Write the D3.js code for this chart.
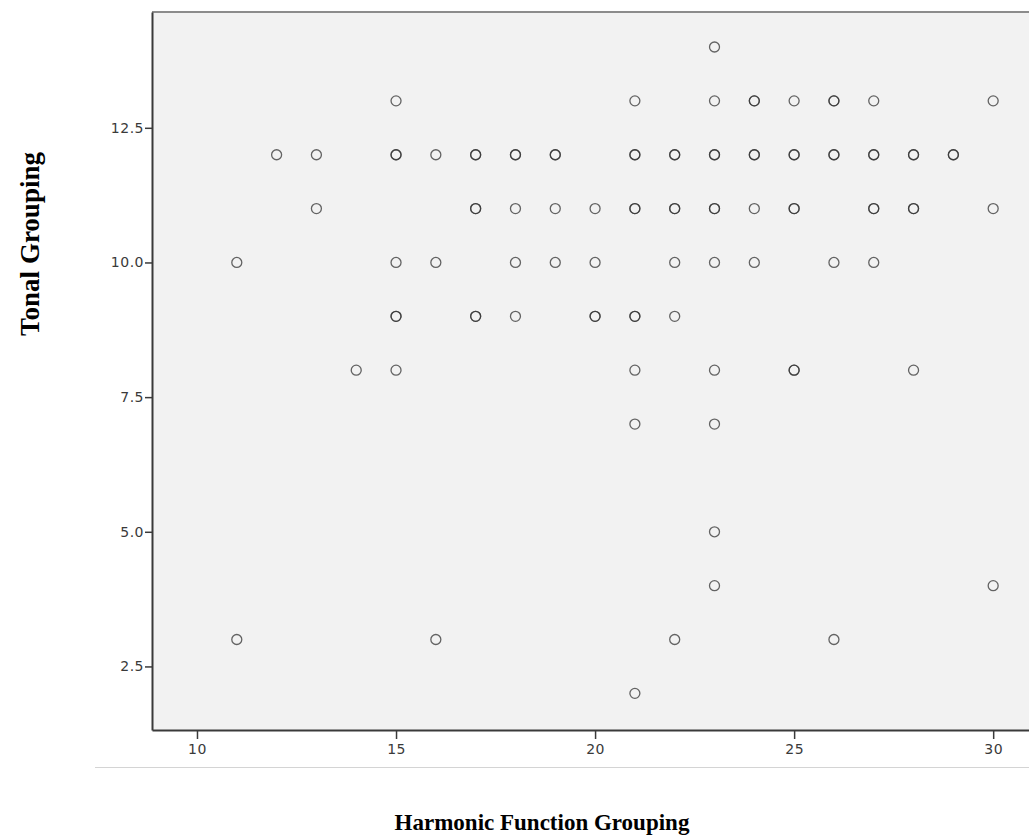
<!DOCTYPE html>
<meta charset="utf-8">
<html>
<head>
<script src="https://d3js.org/d3.v7.min.js"></script>
<style>
  body { margin: 0; background: #fff; }
</style>
</head>
<body>
<div id="chart"></div>
<script>

    // data: Harmonic Function Grouping (x) vs Tonal Grouping (y)
    // repeated pairs are cases that sit on top of each other
    var harmonic = [
        23,
        15, 21, 23, 24, 24, 25, 26, 26, 27, 30,
        12, 13, 15, 15, 16, 17, 17, 18, 18, 19, 19, 21, 21, 22, 22, 23, 23, 24, 24, 25, 25, 26, 26, 27, 27, 28, 28, 29, 29,
        13, 17, 17, 18, 19, 20, 21, 21, 22, 22, 23, 23, 24, 25, 25, 27, 27, 28, 28, 30,
        11, 15, 16, 18, 19, 20, 22, 23, 24, 26, 27,
        15, 15, 17, 17, 18, 20, 20, 21, 21, 22,
        14, 15, 21, 23, 25, 25, 28,
        21, 23,
        23,
        23, 30,
        11, 16, 22, 26,
        21
    ];
    var tonal = [
        14,
        13, 13, 13, 13, 13, 13, 13, 13, 13, 13,
        12, 12, 12, 12, 12, 12, 12, 12, 12, 12, 12, 12, 12, 12, 12, 12, 12, 12, 12, 12, 12, 12, 12, 12, 12, 12, 12, 12, 12,
        11, 11, 11, 11, 11, 11, 11, 11, 11, 11, 11, 11, 11, 11, 11, 11, 11, 11, 11, 11,
        10, 10, 10, 10, 10, 10, 10, 10, 10, 10, 10,
        9, 9, 9, 9, 9, 9, 9, 9, 9, 9,
        8, 8, 8, 8, 8, 8, 8,
        7, 7,
        5,
        4, 4,
        3, 3, 3, 3,
        2
    ];
    var xTicks = [10, 15, 20, 25, 30];
    var yTicks = [2.5, 5.0, 7.5, 10.0, 12.5];

    var W = 1029, H = 837;
    var plot = { left: 152, top: 12, right: 1029, bottom: 730 };

    var svg = d3.select("#chart").append("svg")
        .attr("width", W)
        .attr("height", H);

    var x = d3.scaleLinear()
        .domain([8.87, 30.9])
        .range([plot.left, plot.right]);

    var y = d3.scaleLinear()
        .domain([1.32, 14.65])
        .range([plot.bottom, plot.top]);

    // plot background
    svg.append("rect")
        .attr("x", plot.left)
        .attr("y", plot.top)
        .attr("width", plot.right - plot.left)
        .attr("height", plot.bottom - plot.top)
        .attr("fill", "#f2f2f2");

    // top frame line
    svg.append("line")
        .attr("x1", plot.left).attr("x2", plot.right)
        .attr("y1", plot.top).attr("y2", plot.top)
        .attr("stroke", "#8c8c8c")
        .attr("stroke-width", 2);

    // thin separator under the x labels
    svg.append("line")
        .attr("x1", 95).attr("x2", W)
        .attr("y1", 767.5).attr("y2", 767.5)
        .attr("stroke", "#d4d4d4")
        .attr("stroke-width", 1);

    var xAxis = svg.append("g")
        .attr("transform", "translate(0," + plot.bottom + ")")
        .call(d3.axisBottom(x).tickValues(xTicks).tickSizeInner(9).tickSizeOuter(0).tickPadding(5));

    var yAxis = svg.append("g")
        .attr("transform", "translate(" + plot.left + ",0)")
        .call(d3.axisLeft(y).tickValues(yTicks).tickFormat(d3.format(".1f")).tickSizeInner(7).tickSizeOuter(0).tickPadding(1));

    [xAxis, yAxis].forEach(function (g) {
        g.select(".domain").attr("stroke", "#3a3a3a").attr("stroke-width", 2);
        g.selectAll(".tick line").attr("stroke", "#3a3a3a").attr("stroke-width", 1.5);
        g.selectAll(".tick text")
            .attr("fill", "#3a3a3a")
            .style("font-family", "DejaVu Sans, sans-serif")
            .style("font-size", "14px")
            .style("letter-spacing", "0.5px");
    });

    // points
    svg.append("g")
        .selectAll("circle")
        .data(harmonic.map(function (h, i) { return { x: h, y: tonal[i] }; }))
        .enter()
        .append("circle")
        .attr("cx", function (d) { return x(d.x); })
        .attr("cy", function (d) { return y(d.y); })
        .attr("r", 5)
        .attr("fill", "none")
        .attr("stroke", "#333")
        .attr("stroke-opacity", 0.75)
        .attr("stroke-width", 1.3);

    // axis titles
    svg.append("text")
        .attr("x", 542)
        .attr("y", 830)
        .attr("text-anchor", "middle")
        .style("font-family", "Liberation Serif, serif")
        .style("font-weight", "bold")
        .style("font-size", "23px")
        .text("Harmonic Function Grouping");

    svg.append("text")
        .attr("transform", "translate(39,244) rotate(-90)")
        .attr("text-anchor", "middle")
        .style("font-family", "Liberation Serif, serif")
        .style("font-weight", "bold")
        .style("font-size", "27px")
        .text("Tonal Grouping");

</script>
</body>
</html>
